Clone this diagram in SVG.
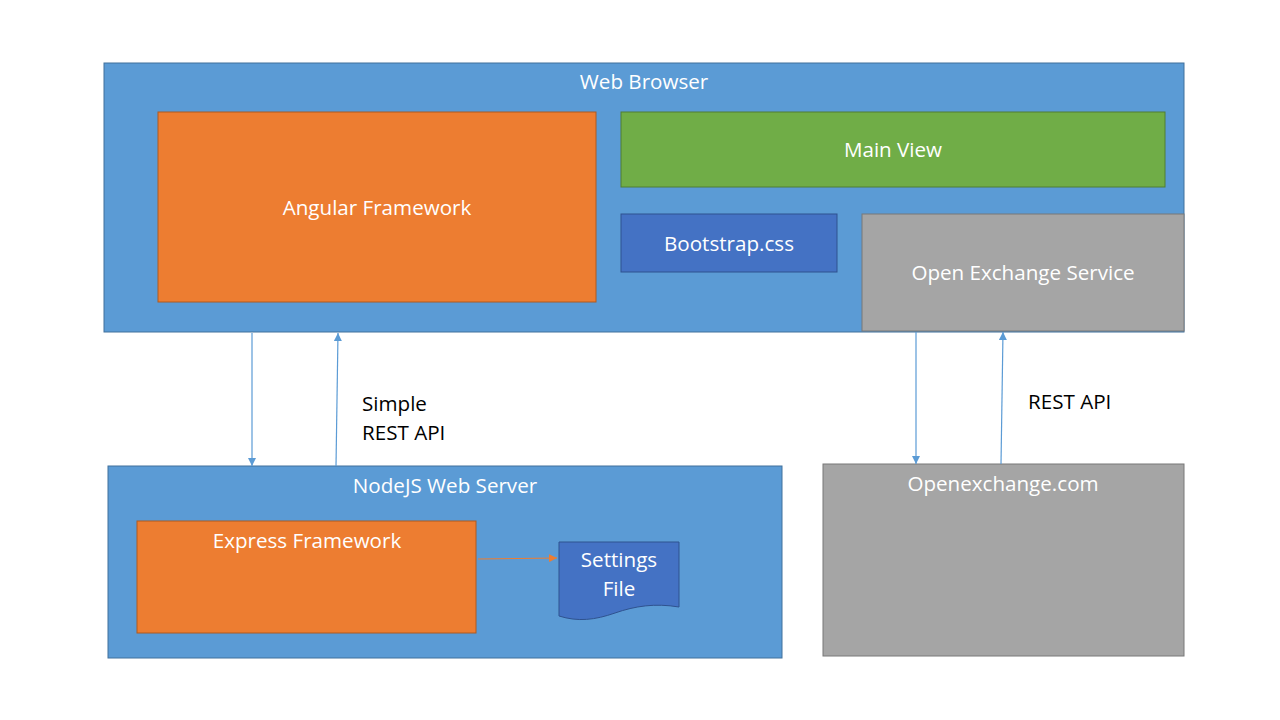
<svg xmlns="http://www.w3.org/2000/svg" width="1280" height="720" viewBox="0 0 1280 720">
<defs>
<style>
.t{font-family:"Open Sans","Noto Sans","Liberation Sans",sans-serif;font-size:20.6px;fill:#fff;text-anchor:middle}
.k{font-family:"Open Sans","Noto Sans","Liberation Sans",sans-serif;font-size:20.6px;fill:#000}
.blue{fill:#5B9BD5;stroke:#41719C;stroke-width:1}
.orange{fill:#ED7D31;stroke:#AE5A21;stroke-width:1}
.green{fill:#70AD47;stroke:#507E32;stroke-width:1}
.dblue{fill:#4472C4;stroke:#2F528F;stroke-width:1}
.grey{fill:#A5A5A5;stroke:#787878;stroke-width:1}
.c{stroke:#5B9BD5;stroke-width:1.2;fill:none;marker-end:url(#ab)}
</style>
<marker id="ab" viewBox="0 0 10 10" refX="10" refY="5" markerWidth="8" markerHeight="8" markerUnits="userSpaceOnUse" orient="auto"><path d="M0,0L10,5L0,10z" fill="#5B9BD5"/></marker>
<marker id="ao" viewBox="0 0 10 10" refX="10" refY="5" markerWidth="8" markerHeight="8" markerUnits="userSpaceOnUse" orient="auto"><path d="M0,0L10,5L0,10z" fill="#ED7D31"/></marker>
</defs>
<rect width="1280" height="720" fill="#fff"/>
<g id="web-browser"><rect class="blue" x="104" y="63" width="1080" height="269"/><text class="t" x="644" y="89">Web Browser</text></g>
<g id="angular"><rect class="orange" x="158" y="112" width="438" height="190"/><text class="t" x="377" y="215">Angular Framework</text></g>
<g id="main-view"><rect class="green" x="621" y="112" width="544" height="75"/><text class="t" x="893" y="157">Main View</text></g>
<g id="bootstrap"><rect class="dblue" x="621" y="214" width="216" height="58"/><text class="t" x="729" y="251">Bootstrap.css</text></g>
<g id="open-exchange-service"><rect class="grey" x="862" y="214" width="322" height="117"/><text class="t" x="1023" y="280">Open Exchange Service</text></g>
<g id="nodejs"><rect class="blue" x="108" y="466" width="674" height="192"/><text class="t" x="445" y="493">NodeJS Web Server</text></g>
<g id="express"><rect class="orange" x="137" y="521" width="339" height="112"/><text class="t" x="307" y="548">Express Framework</text></g>
<g id="settings"><path class="dblue" d="M559,542H679V607C655,603 635,606 615,613C595,620 578,622 559,616Z"/><text class="t" x="619" y="567">Settings</text><text class="t" x="619" y="596">File</text></g>
<g id="openexchange"><rect class="grey" x="823" y="464" width="361" height="192"/><text class="t" x="1003" y="491">Openexchange.com</text></g>
<g id="connectors">
<line class="c" x1="252" y1="333" x2="252" y2="466"/>
<line class="c" x1="336" y1="466" x2="338" y2="333"/>
<line class="c" x1="916" y1="332" x2="916" y2="464"/>
<line class="c" x1="1001" y1="464" x2="1003" y2="332"/>
<line x1="478" y1="559" x2="557" y2="558" stroke="#ED7D31" stroke-width="1" marker-end="url(#ao)"/>
<text class="k" x="362" y="411">Simple</text>
<text class="k" x="362" y="440">REST API</text>
<text class="k" x="1028" y="409">REST API</text>
</g>
</svg>
